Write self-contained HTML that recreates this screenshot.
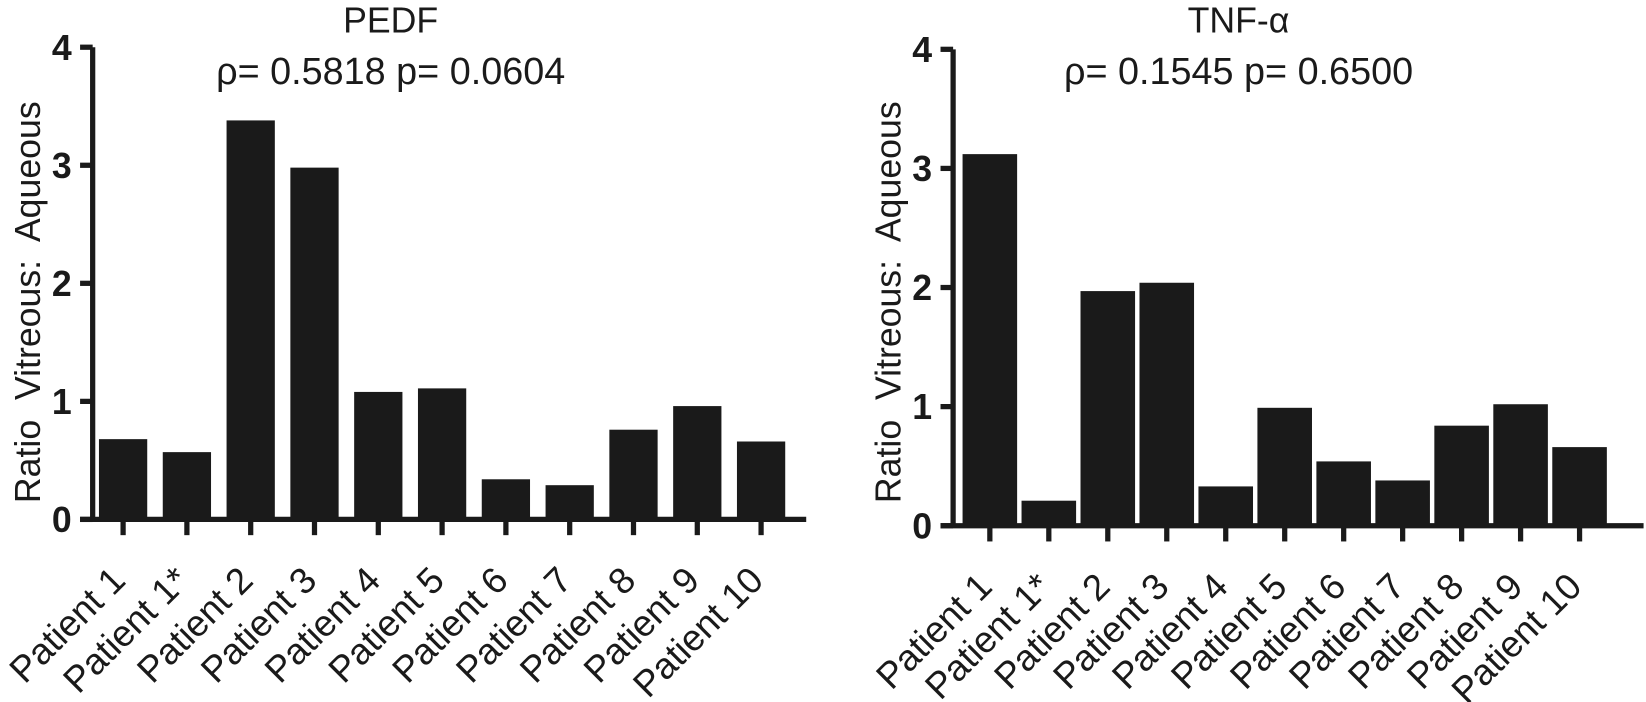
<!DOCTYPE html>
<html><head><meta charset="utf-8"><style>
html,body{margin:0;padding:0;background:#fff;}
svg{display:block;font-family:"Liberation Sans",Arial,sans-serif;}
</style></head><body>
<svg id="chart" width="1646" height="702" viewBox="0 0 1568 669">
</svg>
<script>
const categories=["Patient 1","Patient 1*","Patient 2","Patient 3","Patient 4","Patient 5","Patient 6","Patient 7","Patient 8","Patient 9","Patient 10"];
const pedfValues=[0.68,0.57,3.38,2.98,1.08,1.11,0.34,0.29,0.76,0.96,0.66];
const tnfValues=[3.12,0.21,1.97,2.04,0.33,0.99,0.54,0.38,0.84,1.02,0.66];
const yTicks=[0,1,2,3,4];
const titles=[["PEDF","ρ= 0.5818 p= 0.0604"],["TNF-α","ρ= 0.1545 p= 0.6500"]];

const NS="http://www.w3.org/2000/svg";
const svg=document.getElementById('chart');
function el(tag,attrs,parent){const e=document.createElementNS(NS,tag);for(const k in attrs)e.setAttribute(k,attrs[k]);(parent||svg).appendChild(e);return e;}

const panels=[
 {name:'pedf',vals:pedfValues,ax:88,x1:768,y0:495,y4:45,c0:117,step:60.8,bw:46,title:titles[0],tx:372,ytitleX:38},
 {name:'tnf',vals:tnfValues,ax:908,x1:1566,y0:501,y4:47,c0:943,step:56.2,bw:52,title:titles[1],tx:1180,ytitleX:858}
];
panels.forEach(p=>{
  const g=el('g',{});
  
  
  const yS=v=>p.y0-(p.y0-p.y4)*v/4;
  const xS=i=>p.c0+p.step*i;
  p.vals.forEach((v,i)=>{
    const r=el('rect',{x:xS(i)-p.bw/2,y:yS(v),width:p.bw,height:p.y0-yS(v),fill:'#1a1a1a'},g);
    
    
    el('line',{x1:xS(i),x2:xS(i),y1:p.y0,y2:p.y0+15,stroke:'#1a1a1a','stroke-width':5},g);
    const ax=xS(i)+4, ay=p.y0+60;
    const t=el('text',{x:ax,y:ay,'text-anchor':'end','font-size':35,fill:'#1a1a1a',transform:`rotate(-45 ${ax} ${ay})`},g);
    t.textContent=categories[i];
    
    
  });
  el('line',{x1:p.ax,x2:p.ax,y1:p.y4,y2:p.y0+2,stroke:'#1a1a1a','stroke-width':5},g);
  el('line',{x1:p.ax-12,x2:p.x1,y1:p.y0,y2:p.y0,stroke:'#1a1a1a','stroke-width':5},g);
  yTicks.forEach(v=>{
    el('line',{x1:p.ax-12,x2:p.ax,y1:yS(v),y2:yS(v),stroke:'#1a1a1a','stroke-width':5},g);
    const t=el('text',{x:p.ax-20,y:yS(v)+12,'text-anchor':'end','font-size':34,'font-weight':'bold',fill:'#1a1a1a'},g);
    t.textContent=v;
    
    
  });
  const t1=el('text',{x:p.tx,y:31,'text-anchor':'middle','font-size':34,fill:'#1a1a1a'},g);
  t1.textContent=p.title[0];
  
  
  const t2=el('text',{x:p.tx,y:80,'text-anchor':'middle','font-size':36,fill:'#1a1a1a',style:'white-space:pre'},g);
  t2.textContent=p.title[1];
  
  
  const yt=el('text',{x:p.ytitleX,y:288,'text-anchor':'middle','font-size':34,fill:'#1a1a1a',style:'white-space:pre',transform:`rotate(-90 ${p.ytitleX} 288)`},g);
  yt.textContent='Ratio  Vitreous:  Aqueous';
  
  
});
</script>
</body></html>
